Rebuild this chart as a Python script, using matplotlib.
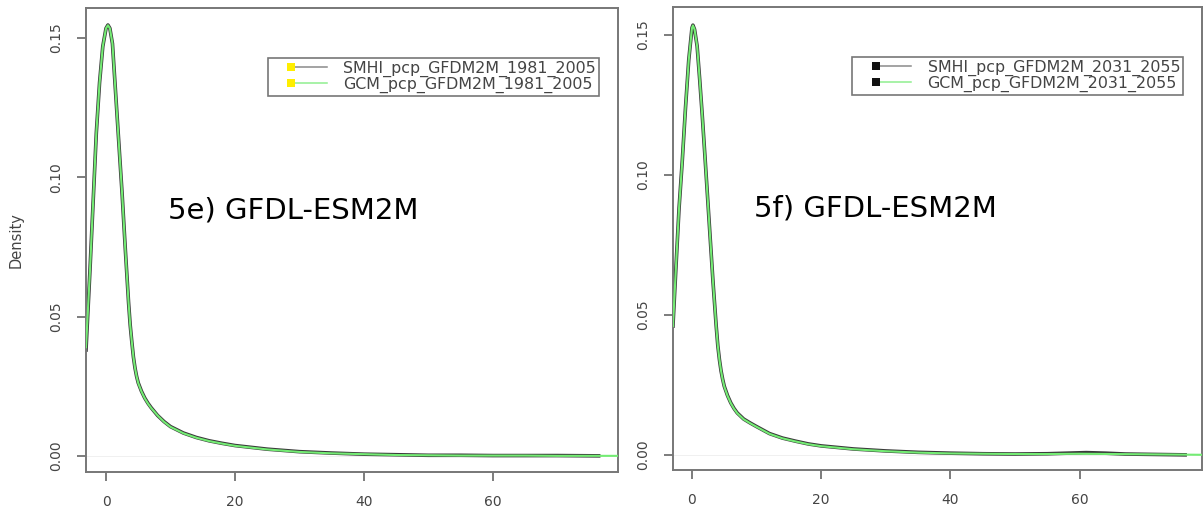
import matplotlib
matplotlib.use("Agg")
import matplotlib.pyplot as plt
from matplotlib.legend_handler import HandlerBase
from matplotlib.lines import Line2D
from matplotlib.patches import Rectangle

plt.rcParams["font.family"] = ["DejaVu Sans"]

# Density curves, 1981-2005 (panel e)
E_SMHI_X = [-3.1, -2.5, -2.0, -1.5, -1.0, -0.5, 0.0, 0.3, 0.6, 1.0, 1.5, 2.0, 2.5, 3.0,
            3.5, 3.75, 4.0, 4.25, 4.5, 4.75, 5.0, 5.5, 6.0, 6.5, 7.0, 8.0, 9.0, 10, 12,
            14, 16, 18, 20, 25, 30, 35, 40, 45, 50, 55, 60, 65, 70, 76.4]
E_SMHI_Y = [0.038, 0.066, 0.091, 0.116, 0.134, 0.147, 0.1535, 0.1547, 0.1535, 0.148,
            0.130, 0.112, 0.094, 0.074, 0.055, 0.047, 0.041, 0.0355, 0.0315, 0.0285,
            0.0262, 0.0232, 0.0208, 0.0189, 0.0173, 0.0145, 0.0123, 0.0105, 0.0082,
            0.0066, 0.0054, 0.0045, 0.0037, 0.0024, 0.0015, 0.0010, 0.0006, 0.0004,
            0.0002, 0.0002, 0.0001, 0.0001, 0.0001, 0.0]
E_GCM_X = [-3.1, -2.5, -2.0, -1.5, -1.0, -0.5, 0.0, 0.3, 0.6, 1.0, 1.5, 2.0, 2.5, 3.0,
           3.5, 3.75, 4.0, 4.25, 4.5, 4.75, 5.0, 5.5, 6.0, 6.5, 7.0, 8.0, 9.0, 10, 12,
           14, 16, 18, 20, 25, 30, 35, 40, 45, 50, 55, 60, 65, 70, 75, 80]
E_GCM_Y = [0.039, 0.066, 0.091, 0.116, 0.134, 0.147, 0.1535, 0.1546, 0.1535, 0.148,
           0.130, 0.112, 0.094, 0.074, 0.055, 0.047, 0.041, 0.0355, 0.0315, 0.0285,
           0.0261, 0.0231, 0.0207, 0.0188, 0.0172, 0.0145, 0.0122, 0.0104, 0.0081,
           0.0065, 0.0053, 0.0044, 0.0036, 0.0023, 0.0014, 0.0009, 0.0006, 0.0003,
           0.0002, 0.0001, 0.0001, 0.0001, 0.0, 0.0, 0.0]

# Density curves, 2031-2055 (panel f)
F_SMHI_X = [-2.94, -2.5, -2.0, -1.5, -1.0, -0.5, 0.0, 0.15, 0.4, 0.8, 1.2, 1.6, 2.0,
            2.5, 3.0, 3.25, 3.5, 3.75, 4.0, 4.25, 4.5, 4.75, 5.0, 5.5, 6.0, 6.5, 7.0,
            8.0, 9.0, 10, 12, 14, 16, 18, 20, 25, 30, 35, 40, 45, 50, 55, 58, 61, 64,
            67, 70, 76.3]
F_SMHI_Y = [0.046, 0.066, 0.088, 0.105, 0.124, 0.141, 0.1525, 0.1535, 0.152, 0.146,
            0.134, 0.121, 0.107, 0.089, 0.071, 0.062, 0.054, 0.046, 0.039, 0.0340,
            0.0300, 0.0270, 0.0245, 0.0212, 0.0186, 0.0166, 0.0150, 0.0128, 0.0114,
            0.0101, 0.0076, 0.0060, 0.0049, 0.0039, 0.0032, 0.0021, 0.0014, 0.0009,
            0.0006, 0.0004, 0.0003, 0.0004, 0.0006, 0.0008, 0.0006, 0.0003, 0.0002, 0.0]
F_GCM_X = [-2.94, -2.5, -2.0, -1.5, -1.0, -0.5, 0.0, 0.15, 0.4, 0.8, 1.2, 1.6, 2.0,
           2.5, 3.0, 3.25, 3.5, 3.75, 4.0, 4.25, 4.5, 4.75, 5.0, 5.5, 6.0, 6.5, 7.0,
           8.0, 9.0, 10, 12, 14, 16, 18, 20, 25, 30, 35, 40, 45, 50, 55, 60, 65, 70,
           75, 80]
F_GCM_Y = [0.046, 0.066, 0.088, 0.105, 0.124, 0.141, 0.1525, 0.1534, 0.152, 0.146,
           0.134, 0.121, 0.107, 0.089, 0.071, 0.062, 0.054, 0.046, 0.039, 0.0340,
           0.0300, 0.0269, 0.0244, 0.0211, 0.0185, 0.0165, 0.0149, 0.0127, 0.0113,
           0.0100, 0.0075, 0.0059, 0.0048, 0.0038, 0.0031, 0.0020, 0.0013, 0.0008,
           0.0005, 0.0004, 0.0003, 0.0003, 0.0004, 0.0003, 0.0002, 0.0001, 0.0]

X_TICKS = [0, 20, 40, 60]
Y_TICKS = [0.00, 0.05, 0.10, 0.15]

SMHI_COLOR = "#3a3a3a"
GCM_COLOR = "#74ec74"


class BoxLineHandler(HandlerBase):
    """Filled square followed by a line, like an R legend with fill + lty."""

    def __init__(self, box_color, line_color, **kw):
        super().__init__(**kw)
        self.box_color = box_color
        self.line_color = line_color

    def create_artists(self, legend, orig_handle, xdescent, ydescent,
                       width, height, fontsize, trans):
        y = height / 2 - ydescent
        s = 0.72 * height
        x0 = -xdescent + 0.29 * width
        line = Line2D([x0 + s, -xdescent + width], [y, y], color=self.line_color,
                      lw=1.1, transform=trans)
        box = Rectangle((x0, y - s / 2), s, s, facecolor=self.box_color,
                        edgecolor="none", transform=trans)
        return [line, box]


def draw_panel(ax, smhi, gcm, period, box_color, tag, xlim, ylim):
    ax.axhline(0, color="#eeeeee", lw=0.6, zorder=1)
    l1, = ax.plot(smhi[0], smhi[1], color=SMHI_COLOR, lw=2.6, zorder=2)
    l2, = ax.plot(gcm[0], gcm[1], color=GCM_COLOR, lw=1.5, zorder=3)

    ax.set_xlim(*xlim)
    ax.set_ylim(*ylim)
    ax.set_xticks(X_TICKS)
    ax.set_yticks(Y_TICKS)
    ax.set_xticklabels([str(t) for t in X_TICKS])
    ax.set_yticklabels(["%.2f" % t for t in Y_TICKS], rotation=90, va="center")
    ax.tick_params(direction="out", length=6.5, width=1.2, colors="#666666",
                   labelcolor="#444444", labelsize=10, pad=10)
    for sp in ax.spines.values():
        sp.set_color("#777777")
        sp.set_linewidth(1.4)

    leg = ax.legend([l1, l2],
                    ["SMHI_pcp_GFDM2M_" + period, "GCM_pcp_GFDM2M_" + period],
                    handler_map={l1: BoxLineHandler(box_color, "#8a8a8a"),
                                 l2: BoxLineHandler(box_color, "#8fef8f")},
                    loc="upper right", bbox_to_anchor=(0.965, 0.893),
                    bbox_transform=ax.transAxes, borderaxespad=0,
                    fontsize=11.4, handlelength=3.5, handletextpad=1.05,
                    borderpad=0.2, labelspacing=0.0, fancybox=False,
                    framealpha=1, edgecolor="#777777")
    leg.get_frame().set_linewidth(1.2)
    for t in leg.get_texts():
        t.set_color("#444444")

    ax.text(0.154, 0.547, tag, transform=ax.transAxes, fontsize=21,
            color="black", ha="left", va="baseline")


fig = plt.figure(figsize=(12.03, 5.2), dpi=100)
ax1 = fig.add_axes([0.0715, 0.0923, 0.4422, 0.8923])
ax2 = fig.add_axes([0.5594, 0.0962, 0.4397, 0.8904])

draw_panel(ax1, (E_SMHI_X, E_SMHI_Y), (E_GCM_X, E_GCM_Y), "1981_2005",
           "#ffee00", "5e) GFDL-ESM2M", (-3.1, 79.4), (-0.0058, 0.1608))
draw_panel(ax2, (F_SMHI_X, F_SMHI_Y), (F_GCM_X, F_GCM_Y), "2031_2055",
           "#111111", "5f) GFDL-ESM2M", (-2.94, 78.9), (-0.0054, 0.160))

ax1.set_ylabel("Density", fontsize=10.5, color="#444444")
ax1.yaxis.set_label_coords(-0.118, 0.5)

fig.savefig("out.png", dpi=100)
